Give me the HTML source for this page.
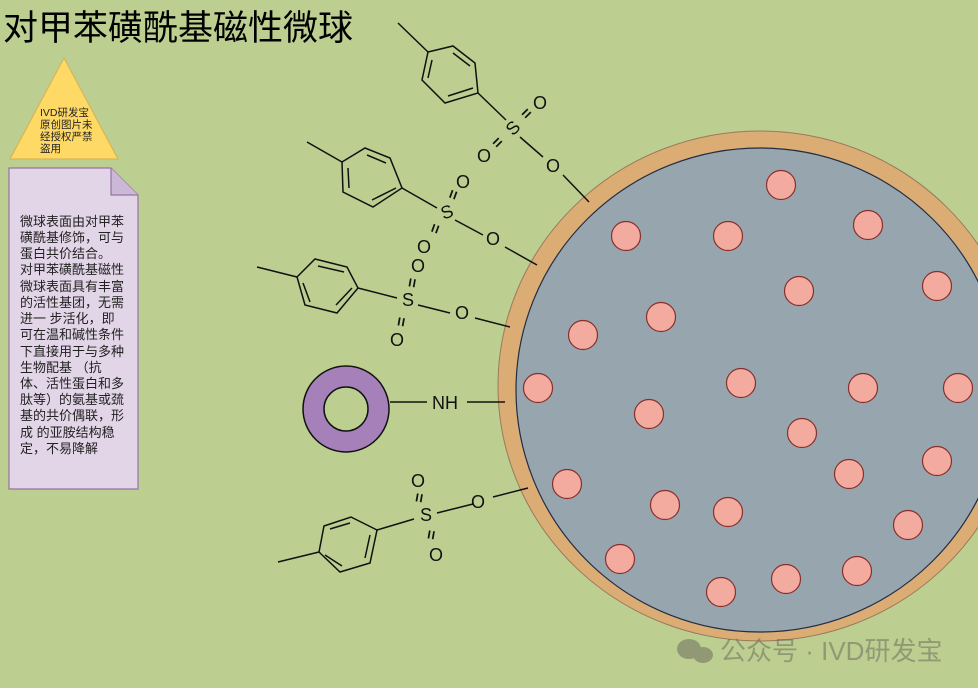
<!DOCTYPE html>
<html><head><meta charset="utf-8"><style>
html,body{margin:0;padding:0;background:#bccf91;}
svg{display:block}
text{font-family:"Liberation Sans","Noto Sans CJK SC",sans-serif;}
</style></head><body>
<svg width="978" height="688" viewBox="0 0 978 688" xmlns="http://www.w3.org/2000/svg">
<rect width="978" height="688" fill="#bccf91"/>
<text x="3" y="40" font-size="35" fill="#000">对甲苯磺酰基磁性微球</text>
<polygon points="64,58 10,159 118,159" fill="#ffd966" stroke="#d6b656" stroke-width="1.2"/>
<g font-size="10.5" fill="#222"><text x="40" y="116">IVD研发宝</text><text x="40" y="128">原创图片未</text><text x="40" y="140">经授权严禁</text><text x="40" y="152">盗用</text></g>
<path d="M9,168 H111 L138,195 V489 H9 Z" fill="#e1d5e7" stroke="#9673a6" stroke-width="1.2"/>
<path d="M111,168 V195 H138" fill="#cbb8d6" stroke="#9673a6" stroke-width="1.2"/>
<g font-size="13" fill="#222">
<text x="20" y="226">微球表面由对甲苯</text><text x="20" y="242">磺酰基修饰，可与</text><text x="20" y="258">蛋白共价结合。</text><text x="20" y="274">对甲苯磺酰基磁性</text><text x="20" y="291">微球表面具有丰富</text><text x="20" y="307">的活性基团，无需</text><text x="20" y="323">进一 步活化，即</text><text x="20" y="339">可在温和碱性条件</text><text x="20" y="356">下直接用于与多种</text><text x="20" y="372">生物配基 （抗</text><text x="20" y="388">体、活性蛋白和多</text><text x="20" y="404">肽等）的氨基或巯</text><text x="20" y="420">基的共价偶联，形</text><text x="20" y="437">成 的亚胺结构稳</text><text x="20" y="453">定，不易降解</text>
</g>
<ellipse cx="760" cy="386" rx="262" ry="255" fill="#dbad74" stroke="#9a7a5a" stroke-width="1"/>
<ellipse cx="760" cy="390" rx="244" ry="242" fill="#97a5ae" stroke="#222c44" stroke-width="1.2"/>
<g fill="#f2ab9e" stroke="#8a2f2a" stroke-width="1.2">
<circle cx="781" cy="185" r="14.5"/><circle cx="626" cy="236" r="14.5"/><circle cx="728" cy="236" r="14.5"/><circle cx="868" cy="225" r="14.5"/><circle cx="937" cy="286" r="14.5"/><circle cx="799" cy="291" r="14.5"/><circle cx="661" cy="317" r="14.5"/><circle cx="583" cy="335" r="14.5"/><circle cx="538" cy="388" r="14.5"/><circle cx="741" cy="383" r="14.5"/><circle cx="863" cy="388" r="14.5"/><circle cx="958" cy="388" r="14.5"/><circle cx="649" cy="414" r="14.5"/><circle cx="802" cy="433" r="14.5"/><circle cx="849" cy="474" r="14.5"/><circle cx="937" cy="461" r="14.5"/><circle cx="567" cy="484" r="14.5"/><circle cx="665" cy="505" r="14.5"/><circle cx="728" cy="512" r="14.5"/><circle cx="908" cy="525" r="14.5"/><circle cx="620" cy="559" r="14.5"/><circle cx="857" cy="571" r="14.5"/><circle cx="786" cy="579" r="14.5"/><circle cx="721" cy="592" r="14.5"/>
</g>
<g stroke="#111" stroke-width="1.5" fill="none">
<line x1="398" y1="23" x2="428" y2="52"/>
<polygon points="428,52 453,46 475,63 478,93 445,103 422,80"/>
<line x1="432" y1="60" x2="428" y2="78"/><line x1="453" y1="53" x2="470" y2="66"/><line x1="448" y1="96" x2="473" y2="88"/>
<line x1="478" y1="93" x2="506" y2="120"/>
<line x1="520" y1="137" x2="543" y2="157"/>
<line x1="563" y1="175" x2="589" y2="202"/>
<line x1="307" y1="142" x2="342" y2="162"/>
<polygon points="342,162 365,148 390,158 402,188 373,207 343,192"/>
<line x1="348" y1="168" x2="349" y2="188"/><line x1="367" y1="155" x2="386" y2="163"/><line x1="372" y1="200" x2="396" y2="188"/>
<line x1="402" y1="188" x2="437" y2="208"/>
<line x1="455" y1="220" x2="483" y2="235"/>
<line x1="505" y1="247" x2="537" y2="265"/>
<line x1="257" y1="267" x2="297" y2="277"/>
<polygon points="297,277 315,259 347,267 358,288 337,313 305,305"/>
<line x1="303" y1="283" x2="310" y2="302"/><line x1="318" y1="266" x2="344" y2="272"/><line x1="336" y1="305" x2="352" y2="288"/>
<line x1="358" y1="288" x2="397" y2="298"/>
<line x1="418" y1="305" x2="450" y2="313"/>
<line x1="475" y1="318" x2="510" y2="327"/>
<line x1="278" y1="562" x2="319" y2="552"/>
<polygon points="319,552 324,526 351,517 377,530 370,563 340,572"/>
<line x1="330" y1="529" x2="350" y2="523"/><line x1="370" y1="535" x2="365" y2="558"/><line x1="325" y1="555" x2="342" y2="566"/>
<line x1="377" y1="530" x2="414" y2="519"/>
<line x1="437" y1="513" x2="473" y2="504"/>
<line x1="493" y1="497" x2="528" y2="488"/>
<line x1="390" y1="402" x2="427" y2="402"/>
<line x1="467" y1="402" x2="505" y2="402"/>
</g>
<g font-size="18" fill="#111" text-anchor="middle" dominant-baseline="central">
<text x="513" y="128" transform="rotate(-45 513 128)">S</text>
<text x="540" y="103">O</text><text x="527" y="114" font-size="16" font-weight="bold" transform="rotate(-45 527 114)">=</text>
<text x="484" y="156">O</text><text x="498" y="143" font-size="16" font-weight="bold" transform="rotate(-45 498 143)">=</text>
<text x="553" y="166">O</text>
<text x="447" y="212" transform="rotate(-20 447 212)">S</text>
<text x="463" y="182">O</text><text x="454" y="195" font-size="16" font-weight="bold" transform="rotate(-70 454 195)">=</text>
<text x="424" y="247">O</text><text x="436" y="229" font-size="16" font-weight="bold" transform="rotate(-70 436 229)">=</text>
<text x="493" y="239">O</text>
<text x="408" y="300">S</text>
<text x="418" y="266">O</text><text x="413" y="283" font-size="16" font-weight="bold" transform="rotate(-80 413 283)">=</text>
<text x="397" y="340">O</text><text x="402" y="322" font-size="16" font-weight="bold" transform="rotate(-80 402 322)">=</text>
<text x="462" y="313">O</text>
<text x="426" y="515">S</text>
<text x="418" y="481">O</text><text x="420" y="498" font-size="16" font-weight="bold" transform="rotate(-80 420 498)">=</text>
<text x="436" y="555">O</text><text x="432" y="535" font-size="16" font-weight="bold" transform="rotate(-80 432 535)">=</text>
<text x="478" y="502">O</text>
<text x="445" y="403">NH</text>
</g>
<circle cx="346" cy="409" r="43" fill="#a680b8" stroke="#111" stroke-width="1.5"/>
<circle cx="346" cy="409" r="22" fill="#bccf91" stroke="#111" stroke-width="1.5"/>
<g opacity="0.55" fill="#6d6d5e">
<ellipse cx="689" cy="649" rx="12" ry="10"/><ellipse cx="703" cy="655" rx="10" ry="8"/>
<text x="720" y="660" font-size="26">公众号 · IVD研发宝</text>
</g>
</svg>
</body></html>
